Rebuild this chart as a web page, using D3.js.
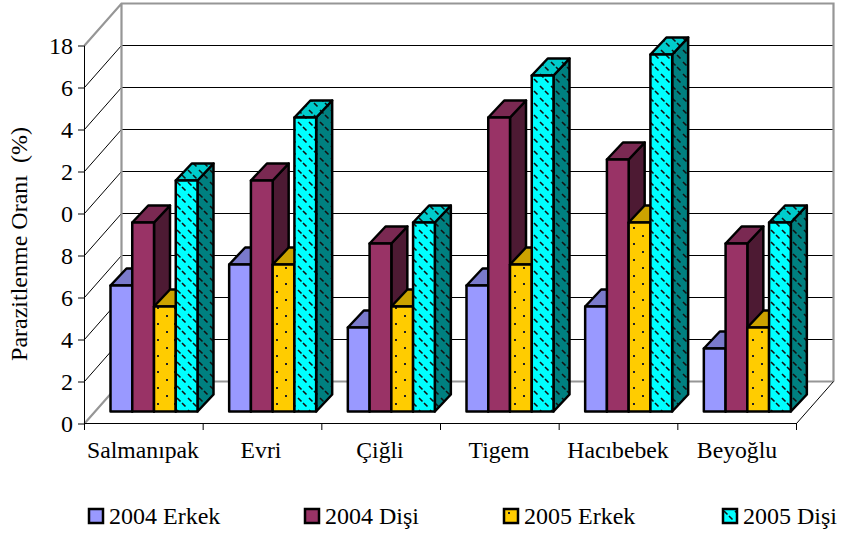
<!DOCTYPE html>
<html><head><meta charset="utf-8">
<script src="https://cdn.jsdelivr.net/npm/d3@7/dist/d3.min.js"></script>
<style>html,body{margin:0;background:#fff}svg{display:block}text{font-family:"Liberation Serif",serif;fill:#000}</style>
</head><body><svg id="c" width="841" height="533"></svg>
<script>
const categories = ["Salmanıpak","Evri","Çiğli","Tigem","Hacıbebek","Beyoğlu"];
const seriesNames = ["2004 Erkek","2004 Dişi","2005 Erkek","2005 Dişi"];
const erkek2004 = [6,7,4,6,5,3];
const disi2004 = [9,11,8,14,12,8];
const erkek2005 = [5,7,5,7,9,4];
const disi2005 = [11,14,9,16,17,9];
const seriesValues = [erkek2004,disi2004,erkek2005,disi2005];
const tickValues = [0,2,4,6,8,10,12,14,16,18];
const tickLabels = ["0","2","4","6","8","0","2","4","6","18"];
const frontFill = ["#9999ff","#993366","#ffcc00","#00ffff"];
const topFill = ["#7a7acc","#7a2952","#cca300","#00cccc"];
const sideFill = ["#5c5c99","#4d1a33","#997a00","#008080"];

const svg = d3.select("#c");
const defs = svg.append("defs");

// Fill textures for the 2005 series, one per shade of the bar faces
function dots(id,bg){
  const p=defs.append("pattern").attr("id",id).attr("width",17).attr("height",16).attr("patternUnits","userSpaceOnUse");
  p.append("rect").attr("width",17).attr("height",16).attr("fill",bg);
  p.append("rect").attr("x",4).attr("y",3).attr("width",2).attr("height",2).attr("fill","#222");
  p.append("rect").attr("x",13).attr("y",11).attr("width",2).attr("height",2).attr("fill","#222");
}
function dashes(id,bg){
  const p=defs.append("pattern").attr("id",id).attr("width",11).attr("height",12).attr("patternUnits","userSpaceOnUse");
  p.append("rect").attr("width",11).attr("height",12).attr("fill",bg);
  p.append("path").attr("d","M1,2L4.5,5.5M6,7L9.5,10.5").attr("stroke","#111").attr("stroke-width",1.6).attr("fill","none");
}
dots("dotFront",frontFill[2]);
dashes("dashFront",frontFill[3]);
dashes("dashTop",topFill[3]);
dashes("dashSide",sideFill[3]);

const y = d3.scaleLinear().domain([0,18]).range([423.5,45.5]);
const x = d3.scaleBand().domain(categories).range([84.5,796.5]);
const wallDx = 37, wallDy = 42;

const wall = svg.append("g");
// Back wall gridlines and their diagonals on the left side wall
tickValues.slice(1,-1).forEach(v=>{
  wall.append("line").attr("x1",84.5+wallDx).attr("x2",84.5+wallDx+712).attr("y1",y(v)-wallDy).attr("y2",y(v)-wallDy)
    .attr("stroke","#000").attr("stroke-width",1);
  wall.append("line").attr("x1",84.5).attr("y1",y(v)).attr("x2",84.5+wallDx).attr("y2",y(v)-wallDy).attr("stroke","#000").attr("stroke-width",1);
});
// Grey frame of the walls and floor
const frame = d3.path();
const L = 84.5;
frame.moveTo(L,y(0)); frame.lineTo(L+wallDx,y(0)-wallDy); frame.lineTo(L+wallDx+712,y(0)-wallDy);
frame.moveTo(L,y(18)); frame.lineTo(L+wallDx,y(18)-wallDy); frame.lineTo(L+wallDx+712,y(18)-wallDy); frame.lineTo(L+wallDx+712,y(0)-wallDy);
frame.moveTo(L+wallDx,y(18)-wallDy); frame.lineTo(L+wallDx,y(0)-wallDy);
wall.append("path").attr("d",frame.toString()).attr("fill","none").attr("stroke","#969696").attr("stroke-width",2.2);
wall.append("line").attr("x1",L+712).attr("y1",y(0)).attr("x2",L+712+wallDx).attr("y2",y(0)-wallDy).attr("stroke","#000");

// Axes
const yAxis = d3.axisLeft(y).tickValues(tickValues).tickFormat((d,i)=>tickLabels[i]).tickSize(6).tickPadding(5);
const yG = svg.append("g").attr("transform","translate(84,0)").call(yAxis);
yG.selectAll("text").attr("font-size",24);
yG.selectAll("line,path").attr("stroke","#000");
yG.select(".domain").attr("d","M0.5,45.5V423.5");
const xAxis = d3.axisBottom(d3.scaleLinear().domain([0,6]).range([84,796])).ticks(6).tickFormat("").tickSize(7);
const xG = svg.append("g").attr("transform","translate(0,423)").call(xAxis);
xG.selectAll("line,path").attr("stroke","#000");
xG.select(".domain").attr("d","M84,0.5H796");
svg.append("g").selectAll("text").data(categories).join("text")
  .attr("x",(d,i)=>[143,261,380,499,618,737][i]).attr("y",458).attr("text-anchor","middle").attr("font-size",23.7).text(d=>d);
svg.append("text").attr("transform","translate(27,244) rotate(-90)").attr("text-anchor","middle").attr("font-size",24).attr("xml:space","preserve").text("Parazitlenme Oranı  (%)");

// Bars: each has a front, a top and a side face, sitting slightly forward of the back wall
const base = 411.5, pxPerUnit = y(0)-y(1), bw = 21.75, dx = 16, dy = 17, groupLeft = 26;
const barG = svg.append("g");
const frontFor = [frontFill[0],frontFill[1],"url(#dotFront)","url(#dashFront)"];
const topFor = [topFill[0],topFill[1],topFill[2],"url(#dashTop)"];
const sideFor = [sideFill[0],sideFill[1],sideFill[2],"url(#dashSide)"];
categories.forEach((c,ci)=>{
  seriesValues.forEach((vals,si)=>{
    const x0 = x(c)+groupLeft+si*bw, x1 = x0+bw, yt = base-vals[ci]*pxPerUnit;
    const g = barG.append("g").attr("stroke","#000").attr("stroke-width",2.5).attr("stroke-linejoin","round");
    g.append("polygon").attr("points",[[x1,base],[x1+dx,base-dy],[x1+dx,yt-dy],[x1,yt]].join(" ")).attr("fill",sideFor[si]);
    g.append("polygon").attr("points",[[x0,yt],[x0+dx,yt-dy],[x1+dx,yt-dy],[x1,yt]].join(" ")).attr("fill",topFor[si]);
    g.append("rect").attr("x",x0).attr("y",yt).attr("width",bw).attr("height",base-yt).attr("fill",frontFor[si]);
  });
});

// Legend
const legendX = [89,305,504,723];
const leg = svg.append("g").selectAll("g").data(seriesNames).join("g").attr("transform",(d,i)=>`translate(${legendX[i]},509)`);
leg.append("rect").attr("width",14).attr("height",14).attr("fill",(d,i)=>frontFor[i]).attr("stroke","#000").attr("stroke-width",2.5);
leg.append("text").attr("x",20).attr("y",15).attr("font-size",24).text(d=>d);
</script></body></html>
